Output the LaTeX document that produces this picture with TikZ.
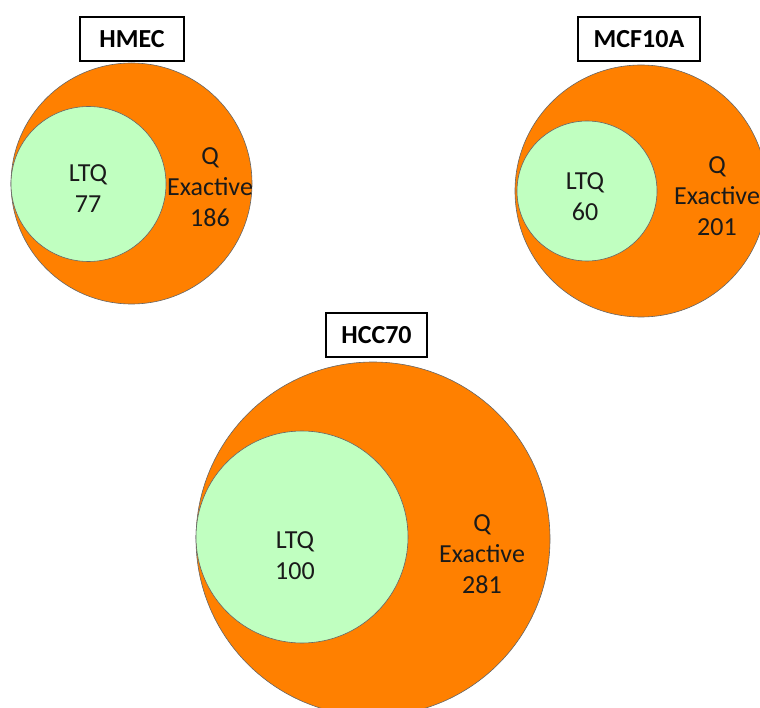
\documentclass[tikz,border=0pt]{standalone}
\usepackage{fontspec}
\setmainfont{Carlito}
\usetikzlibrary{positioning}
\definecolor{vennorange}{HTML}{FF8000}
\definecolor{venngreen}{HTML}{C0FFC0}
\definecolor{venntext}{HTML}{1A1A1A}
\tikzset{
  outer/.style={circle, draw=black!60, fill=vennorange, inner sep=0pt, line width=0.6pt},
  inner/.style={circle, draw=black!60, fill=venngreen, inner sep=0pt, line width=0.6pt},
  count/.style={align=center, font=\fontsize{26}{31}\selectfont, text=venntext},
  cellbox/.style={draw=black, line width=1.3pt, fill=white, inner sep=0pt,
                  minimum height=44pt, font=\fontsize{26}{30}\selectfont\bfseries}
}

\begin{document}
\begin{tikzpicture}[x=1pt, y=-1pt]
    \useasboundingbox (0,0) rectangle (760,708);
    \clip (0,0) rectangle (760,708);

    % HMEC
    \node[outer, minimum size=241pt] (hmecQ) at (131.5,183.5) {};
    \node[inner, minimum size=155pt] (hmecL) at (88.5,184) {};
    \node[count] (hmecLtxt) at (88,189) {LTQ\\77};
    \node[count] (hmecQtxt) at (210,187) {Q\\Exactive\\186};
    \node[cellbox, minimum width=104pt] (hmec) at (132,39) {HMEC};

    % MCF10A
    \node[outer, minimum size=252pt] (mcfQ) at (641,191) {};
    \node[inner, minimum size=140pt] (mcfL) at (587,191) {};
    \node[count] (mcfLtxt) at (585,197) {LTQ\\60};
    \node[count] (mcfQtxt) at (717,196) {Q\\Exactive\\201};
    \node[cellbox, minimum width=122pt] (mcf) at (639,39) {MCF10A};

    % HCC70
    \node[outer, minimum size=354pt] (hccQ) at (373,539) {};
    \node[inner, minimum size=212pt] (hccL) at (302,537) {};
    \node[count] (hccLtxt) at (295,556) {LTQ\\100};
    \node[count] (hccQtxt) at (482,554) {Q\\Exactive\\281};
    \node[cellbox, minimum width=101pt] (hcc) at (376.5,335) {HCC70};
\end{tikzpicture}
\end{document}
